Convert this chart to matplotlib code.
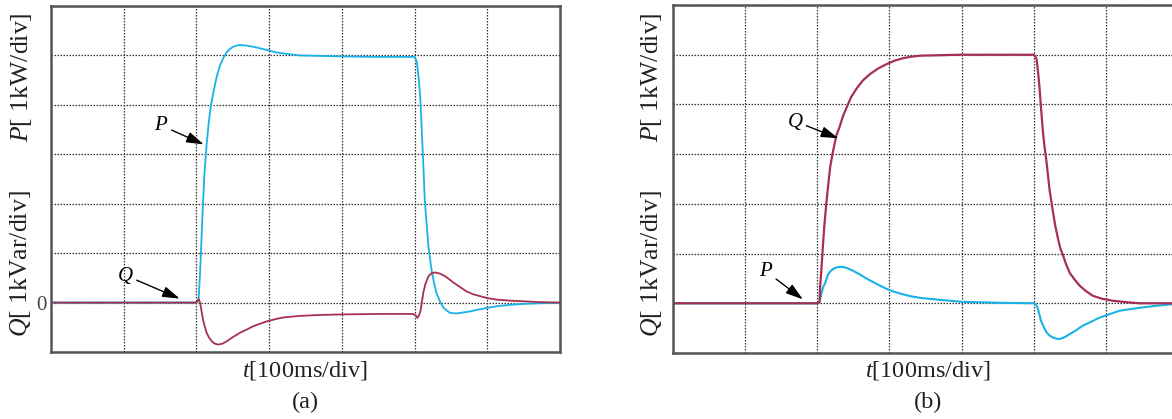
import matplotlib
matplotlib.use("Agg")
import matplotlib.pyplot as plt

plt.rcParams['font.family'] = ['Liberation Serif', 'DejaVu Serif']
plt.rcParams['mathtext.fontset'] = 'custom'
plt.rcParams['mathtext.rm'] = 'Liberation Serif'
plt.rcParams['mathtext.it'] = 'Liberation Serif:italic'

CYAN = '#19b2e6'
MAROON = '#a53050'

# ---- panel (a): time in divisions, values in divisions (1 div = 1 kW / 1 kVar)
ta_p = [0, 2.0, 2.03, 2.05, 2.07, 2.09, 2.11, 2.14, 2.17, 2.2, 2.24, 2.28, 2.32, 2.37,
        2.42, 2.46, 2.5, 2.55, 2.6, 2.69, 2.8, 2.97, 3.1, 3.2, 3.42, 4.0, 4.5, 5.0,
        5.03, 5.06, 5.08, 5.1, 5.12, 5.14, 5.16, 5.19, 5.22, 5.24, 5.27, 5.3, 5.35,
        5.4, 5.45, 5.49, 5.58, 5.67, 5.76, 5.88, 5.99, 6.15, 6.36, 6.6, 6.82, 7.0]
pa = [0, 0, 0.05, 0.6, 1.3, 2.0, 2.6, 3.2, 3.65, 4.0, 4.3, 4.58, 4.78, 4.95,
      5.07, 5.13, 5.17, 5.2, 5.21, 5.2, 5.17, 5.11, 5.06, 5.04, 5.0, 4.98, 4.97, 4.97,
      4.88, 4.5, 4.1, 3.45, 2.8, 2.08, 1.7, 1.14, 0.8, 0.6, 0.38, 0.2, 0.02,
      -0.11, -0.17, -0.21, -0.22, -0.2, -0.18, -0.14, -0.11, -0.07, -0.04, -0.02, -0.01, 0]

ta_q = [0, 2.0, 2.02, 2.03, 2.05, 2.07, 2.09, 2.11, 2.14, 2.17, 2.21, 2.25, 2.3, 2.36,
        2.42, 2.5, 2.6, 2.7, 2.78, 2.87, 2.97, 3.1, 3.2, 3.42, 3.7, 4.0, 4.5, 4.98,
        5.02, 5.04, 5.06, 5.08, 5.1, 5.12, 5.15, 5.19, 5.23, 5.28, 5.34, 5.4, 5.47,
        5.53, 5.62, 5.71, 5.8, 5.9, 6.0, 6.13, 6.3, 6.45, 6.7, 7.0]
qa = [0, 0, 0.05, 0.07, 0.0, -0.17, -0.34, -0.46, -0.61, -0.7, -0.78, -0.83, -0.85, -0.83,
      -0.78, -0.7, -0.61, -0.54, -0.48, -0.43, -0.38, -0.33, -0.3, -0.27, -0.25, -0.24, -0.23, -0.23,
      -0.27, -0.31, -0.26, -0.18, 0.0, 0.2, 0.38, 0.53, 0.59, 0.61, 0.59, 0.55, 0.48,
      0.41, 0.32, 0.23, 0.17, 0.13, 0.09, 0.06, 0.04, 0.03, 0.01, 0]

# ---- panel (b)
tb_q = [0, 2.0, 2.03, 2.04, 2.06, 2.08, 2.1, 2.13, 2.16, 2.18, 2.21, 2.24, 2.27, 2.31,
        2.36, 2.41, 2.47, 2.54, 2.63, 2.73, 2.84, 2.96, 3.07, 3.19, 3.3, 3.42, 3.7,
        4.0, 5.0, 5.02, 5.04, 5.06, 5.08, 5.1, 5.13, 5.15, 5.18, 5.22, 5.27, 5.3,
        5.34, 5.37, 5.41, 5.45, 5.5, 5.57, 5.64, 5.72, 5.82, 5.95, 6.1, 6.3, 6.47, 7.0]
qb = [0, 0, 0.02, 0.35, 0.75, 1.2, 1.6, 2.08, 2.5, 2.75, 3.0, 3.21, 3.4, 3.55,
      3.78, 3.95, 4.15, 4.31, 4.48, 4.61, 4.72, 4.81, 4.88, 4.93, 4.96, 4.98, 4.99,
      5.0, 5.0, 4.97, 4.91, 4.65, 4.35, 3.95, 3.41, 3.15, 2.81, 2.28, 1.81, 1.55,
      1.28, 1.1, 0.95, 0.78, 0.61, 0.47, 0.35, 0.25, 0.15, 0.09, 0.05, 0.02, 0.0, 0]

tb_p = [0, 2.0, 2.03, 2.06, 2.08, 2.11, 2.13, 2.15, 2.18, 2.22, 2.26, 2.31, 2.36, 2.41,
        2.5, 2.59, 2.68, 2.77, 2.86, 2.96, 3.07, 3.19, 3.3, 3.42, 3.55, 3.7, 3.85,
        4.0, 4.53, 5.01, 5.04, 5.06, 5.08, 5.1, 5.14, 5.18, 5.22, 5.27, 5.31, 5.36,
        5.43, 5.5, 5.59, 5.68, 5.8, 5.91, 6.05, 6.19, 6.33, 6.47, 6.7, 6.91, 7.0]
pb = [0, 0, 0.02, 0.21, 0.32, 0.41, 0.5, 0.58, 0.64, 0.69, 0.72, 0.73, 0.73, 0.71,
      0.65, 0.58, 0.5, 0.43, 0.36, 0.29, 0.23, 0.18, 0.14, 0.11, 0.09, 0.07, 0.05,
      0.03, 0.01, 0, -0.05, -0.12, -0.23, -0.35, -0.48, -0.59, -0.65, -0.69, -0.71, -0.72,
      -0.68, -0.62, -0.54, -0.45, -0.37, -0.29, -0.22, -0.15, -0.12, -0.09, -0.05, -0.02, -0.02]

W, H = 1172, 419
fig = plt.figure(figsize=(W / 100, H / 100), dpi=100)


def px_axes(left, top, right, bottom):
    return fig.add_axes([left / W, 1 - bottom / H, (right - left) / W, (bottom - top) / H])


def style(ax, zero_label):
    ax.set_xlim(0, 7)
    ax.set_ylim(-1, 6)
    ax.set_xticks(range(0, 8))
    ax.set_yticks(range(-1, 7))
    ax.set_xticklabels([])
    ax.set_yticklabels(['0' if (v == 0 and zero_label) else '' for v in range(-1, 7)])
    ax.tick_params(length=0, labelsize=15, pad=3, labelcolor='#444444')
    ax.grid(True, linestyle=(0, (1.2, 1.2)), color='#333333', lw=0.9)
    for s in ax.spines.values():
        s.set_color('#555555')
        s.set_linewidth(1.8)


axa = px_axes(51, 6, 560, 352)
style(axa, True)
axa.plot(ta_p, pa, color=CYAN, lw=1.3)
axa.plot(ta_q, qa, color=MAROON, lw=1.3)

axb = px_axes(673, 5, 1178, 353)
style(axb, False)
axb.plot(tb_p, pb, color=CYAN, lw=1.5)
axb.plot(tb_q, qb, color=MAROON, lw=1.6)

arrow = dict(arrowstyle='-|>,head_length=0.7,head_width=0.22', color='black', lw=1.0,
             shrinkA=0, shrinkB=0)
lab = dict(fontsize=15, ha='right', va='center')
axa.annotate(r'$P$', xy=(2.1, 3.2), xytext=(1.62, 3.58), arrowprops=arrow, **lab)
axa.annotate(r'$Q$', xy=(1.77, 0.08), xytext=(1.14, 0.55), arrowprops=arrow, **lab)
axb.annotate(r'$Q$', xy=(2.29, 3.32), xytext=(1.81, 3.66), arrowprops=arrow, **lab)
axb.annotate(r'$P$', xy=(1.8, 0.08), xytext=(1.39, 0.64), arrowprops=arrow, **lab)

ylab = dict(fontsize=18.5, color='#222222', ha='center', va='center', rotation=90)
txt = dict(fontsize=17.5, color='#222222', ha='center', va='center')
for x0, xc, panel in [(21, 305, '(a)'), (652, 928, '(b)')]:
    fig.text(x0 / W, 1 - 77 / H, r'$P$[ 1kW/div]', **ylab)
    fig.text(x0 / W, 1 - 264 / H, r'$Q$[ 1kVar/div]', **ylab)
    fig.text(xc / W, 1 - 370 / H, r'$t$[100ms/div]', **txt)
    fig.text(xc / W, 1 - 402 / H, panel, **txt)

fig.savefig('out.png', dpi=100)
